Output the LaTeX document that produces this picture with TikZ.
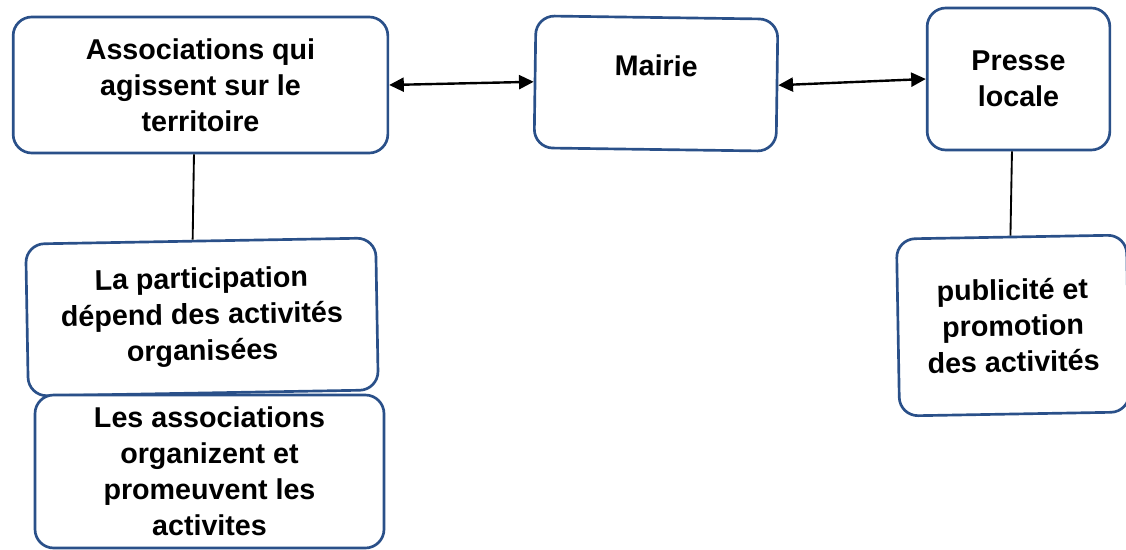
\documentclass[tikz,border=0pt]{standalone}
\usepackage{fontspec}
\setmainfont{Liberation Sans}
\usetikzlibrary{arrows.meta,calc}
\definecolor{boxblue}{HTML}{2A5089}
\begin{document}
\begin{tikzpicture}[x=0.75pt,y=-0.75pt,
  box/.style={draw=boxblue, line width=2pt, rounded corners=14pt, align=center,
    font=\bfseries\fontsize{21.5}{27}\selectfont, inner sep=0pt, fill=white},
  link/.style={line width=1.4pt, draw=black},
  biarrow/.style={line width=1.8pt, draw=black,
    {Triangle[length=11pt,width=10.5pt]}-{Triangle[length=11pt,width=10.5pt]}}]
\clip (0,0) rectangle (1126,549);
\fill[white] (0,0) rectangle (1126,549);

\node[box, minimum width=281pt, minimum height=102pt] (A) at (200.5,85)
  {Associations qui\\agissent sur le\\territoire};
\node[box, rotate=-0.8, minimum width=181.5pt, minimum height=99pt] (M) at (656,83.5)
  {Mairie\\\mbox{}};
\node[box, minimum width=137pt, minimum height=106.5pt] (Pr) at (1018.5,79)
  {Presse\\locale};
\node[box, rotate=1, minimum width=262.5pt, minimum height=114pt] (P) at (202,317)
  {La participation\\dépend des activités\\organisées};
\node[box, minimum width=261.75pt, minimum height=114.75pt] (L) at (209.5,471.5)
  {Les associations\\organizent et\\promeuvent les\\activites};
\node[box, rotate=1, minimum width=172.5pt, minimum height=132.75pt] (Pub) at (1013,325.5)
  {publicité et\\promotion\\des activités};

\draw[biarrow] (A.east) -- (M.west);
\draw[biarrow] (M.east) -- (Pr.west);
\draw[link] ([xshift=-4.9pt]A.south) -- ([xshift=-6pt]P.north);
\draw[link] ([xshift=-4.9pt]Pr.south) -- ([xshift=-0.75pt]Pub.north);
\end{tikzpicture}
\end{document}
